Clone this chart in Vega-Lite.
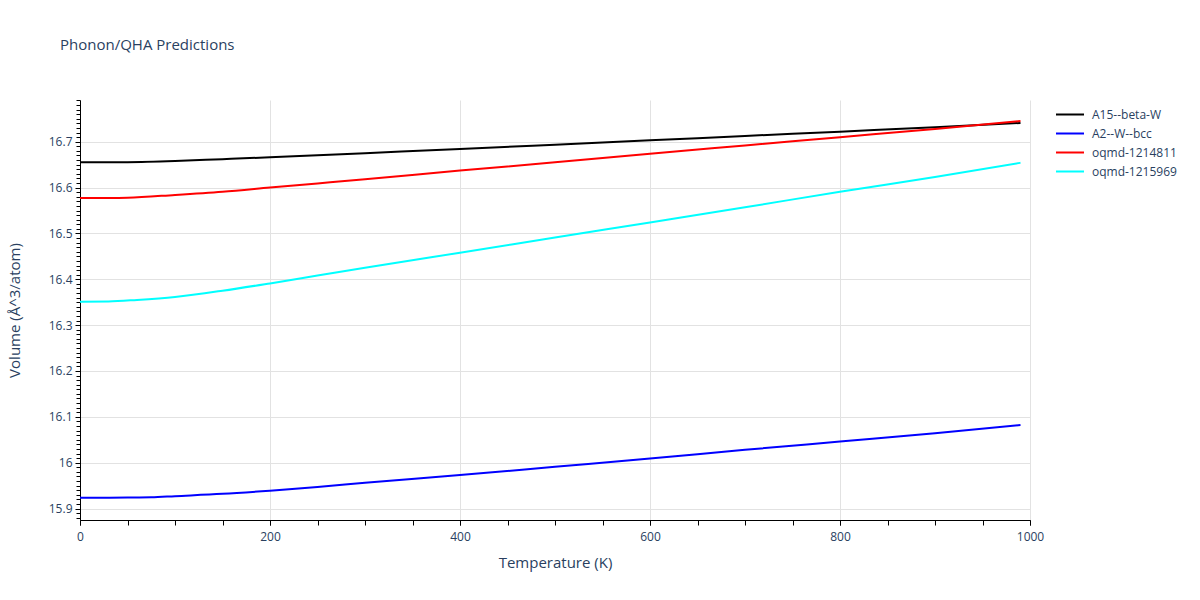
{
  "$schema": "https://vega.github.io/schema/vega-lite/v6.json",
  "width": 950,
  "height": 420,
  "autosize": {"type": "none"},
  "padding": {"left": 80, "top": 100, "right": 170, "bottom": 80},
  "background": "white",
  "config": {
    "font": "Open Sans",
    "view": {"stroke": null}
  },
  "title": {
    "text": "Phonon/QHA Predictions",
    "anchor": "start",
    "frame": "group",
    "orient": "top",
    "baseline": "alphabetic",
    "offset": 50,
    "dx": -20,
    "dy": 15,
    "fontSize": 15,
    "fontWeight": "normal",
    "font": "Open Sans",
    "color": "#2a3f5f"
  },
  "data": {
    "values": [
      {"series": "A15--beta-W", "T": 0, "V": 16.655},
      {"series": "A15--beta-W", "T": 50, "V": 16.6555},
      {"series": "A15--beta-W", "T": 100, "V": 16.658},
      {"series": "A15--beta-W", "T": 150, "V": 16.662},
      {"series": "A15--beta-W", "T": 200, "V": 16.666},
      {"series": "A15--beta-W", "T": 250, "V": 16.6705},
      {"series": "A15--beta-W", "T": 300, "V": 16.675},
      {"series": "A15--beta-W", "T": 400, "V": 16.684},
      {"series": "A15--beta-W", "T": 500, "V": 16.6935},
      {"series": "A15--beta-W", "T": 600, "V": 16.703},
      {"series": "A15--beta-W", "T": 700, "V": 16.7125},
      {"series": "A15--beta-W", "T": 800, "V": 16.722},
      {"series": "A15--beta-W", "T": 900, "V": 16.7315},
      {"series": "A15--beta-W", "T": 990, "V": 16.741},

      {"series": "A2--W--bcc", "T": 0, "V": 15.9235},
      {"series": "A2--W--bcc", "T": 50, "V": 15.924},
      {"series": "A2--W--bcc", "T": 75, "V": 15.9245},
      {"series": "A2--W--bcc", "T": 100, "V": 15.927},
      {"series": "A2--W--bcc", "T": 150, "V": 15.932},
      {"series": "A2--W--bcc", "T": 200, "V": 15.939},
      {"series": "A2--W--bcc", "T": 250, "V": 15.947},
      {"series": "A2--W--bcc", "T": 300, "V": 15.956},
      {"series": "A2--W--bcc", "T": 400, "V": 15.973},
      {"series": "A2--W--bcc", "T": 500, "V": 15.991},
      {"series": "A2--W--bcc", "T": 600, "V": 16.009},
      {"series": "A2--W--bcc", "T": 700, "V": 16.028},
      {"series": "A2--W--bcc", "T": 800, "V": 16.046},
      {"series": "A2--W--bcc", "T": 900, "V": 16.064},
      {"series": "A2--W--bcc", "T": 990, "V": 16.082},

      {"series": "oqmd-1214811", "T": 0, "V": 16.577},
      {"series": "oqmd-1214811", "T": 50, "V": 16.578},
      {"series": "oqmd-1214811", "T": 100, "V": 16.584},
      {"series": "oqmd-1214811", "T": 150, "V": 16.591},
      {"series": "oqmd-1214811", "T": 200, "V": 16.6},
      {"series": "oqmd-1214811", "T": 250, "V": 16.609},
      {"series": "oqmd-1214811", "T": 300, "V": 16.618},
      {"series": "oqmd-1214811", "T": 400, "V": 16.637},
      {"series": "oqmd-1214811", "T": 500, "V": 16.655},
      {"series": "oqmd-1214811", "T": 600, "V": 16.674},
      {"series": "oqmd-1214811", "T": 700, "V": 16.692},
      {"series": "oqmd-1214811", "T": 800, "V": 16.71},
      {"series": "oqmd-1214811", "T": 900, "V": 16.728},
      {"series": "oqmd-1214811", "T": 990, "V": 16.745},

      {"series": "oqmd-1215969", "T": 0, "V": 16.351},
      {"series": "oqmd-1215969", "T": 30, "V": 16.3515},
      {"series": "oqmd-1215969", "T": 60, "V": 16.355},
      {"series": "oqmd-1215969", "T": 100, "V": 16.3615},
      {"series": "oqmd-1215969", "T": 150, "V": 16.375},
      {"series": "oqmd-1215969", "T": 200, "V": 16.391},
      {"series": "oqmd-1215969", "T": 250, "V": 16.408},
      {"series": "oqmd-1215969", "T": 300, "V": 16.425},
      {"series": "oqmd-1215969", "T": 400, "V": 16.458},
      {"series": "oqmd-1215969", "T": 500, "V": 16.491},
      {"series": "oqmd-1215969", "T": 600, "V": 16.524},
      {"series": "oqmd-1215969", "T": 700, "V": 16.557},
      {"series": "oqmd-1215969", "T": 800, "V": 16.591},
      {"series": "oqmd-1215969", "T": 900, "V": 16.623},
      {"series": "oqmd-1215969", "T": 990, "V": 16.654}
    ]
  },
  "layer": [
    {
      "mark": {"type": "line", "strokeWidth": 2, "interpolate": "monotone"},
      "encoding": {
        "x": {
          "field": "T",
          "type": "quantitative",
          "scale": {"domain": [0, 1000], "nice": false, "zero": false},
          "axis": {
            "orient": "bottom",
            "title": "Temperature (K)",
            "tickCount": 5,
            "format": "d",
            "labelFlush": false,
            "grid": true,
            "gridColor": "#e2e2e2",
            "gridWidth": 1,
            "domainColor": "#000000",
            "domainWidth": 1,
            "tickColor": "#000000",
            "tickSize": 5,
            "labelFont": "Open Sans",
            "labelFontSize": 12,
            "labelColor": "#2a3f5f",
            "labelPadding": 6,
            "titleFont": "Open Sans",
            "titleFontSize": 15,
            "titleFontWeight": "normal",
            "titleColor": "#2a3f5f",
            "titlePadding": 13
          }
        },
        "y": {
          "field": "V",
          "type": "quantitative",
          "scale": {"domain": [15.875, 16.791], "nice": false, "zero": false},
          "axis": {
            "orient": "left",
            "title": "Volume (Å^3/atom)",
            "tickCount": 10,
            "format": ".1~f",
            "grid": true,
            "gridColor": "#e2e2e2",
            "gridWidth": 1,
            "domainColor": "#000000",
            "domainWidth": 1,
            "tickColor": "#000000",
            "tickSize": 5,
            "labelFont": "Open Sans",
            "labelFontSize": 12,
            "labelColor": "#2a3f5f",
            "labelPadding": 3,
            "titleFont": "Open Sans",
            "titleFontSize": 15,
            "titleFontWeight": "normal",
            "titleColor": "#2a3f5f",
            "titlePadding": 26
          }
        },
        "color": {
          "field": "series",
          "type": "nominal",
          "scale": {
            "domain": ["A15--beta-W", "A2--W--bcc", "oqmd-1214811", "oqmd-1215969"],
            "range": ["#000000", "#0000ff", "#ff0000", "#00ffff"]
          },
          "legend": {
            "title": null,
            "orient": "none",
            "legendX": 975,
            "legendY": 8,
            "symbolType": "stroke",
            "symbolSize": 784,
            "symbolStrokeWidth": 2,
            "clipHeight": 13,
            "rowPadding": 6,
            "labelOffset": 7,
            "labelFont": "Open Sans",
            "labelFontSize": 12,
            "labelColor": "#2a3f5f"
          }
        }
      }
    },
    {
      "mark": {"type": "point", "opacity": 0},
      "encoding": {
        "x": {
          "field": "T",
          "type": "quantitative",
          "scale": {"domain": [0, 1000], "nice": false, "zero": false},
          "axis": {
            "orient": "bottom",
            "title": null,
            "tickCount": 20,
            "labels": false,
            "grid": false,
            "domain": false,
            "tickColor": "#000000",
            "tickSize": 5
          }
        },
        "y": {
          "field": "V",
          "type": "quantitative",
          "scale": {"domain": [15.875, 16.791], "nice": false, "zero": false},
          "axis": {
            "orient": "left",
            "title": null,
            "tickCount": 92,
            "labels": false,
            "grid": false,
            "domain": false,
            "tickColor": "#000000",
            "tickSize": 4
          }
        }
      }
    }
  ],
  "resolve": {"scale": {"x": "independent", "y": "independent"}}
}
